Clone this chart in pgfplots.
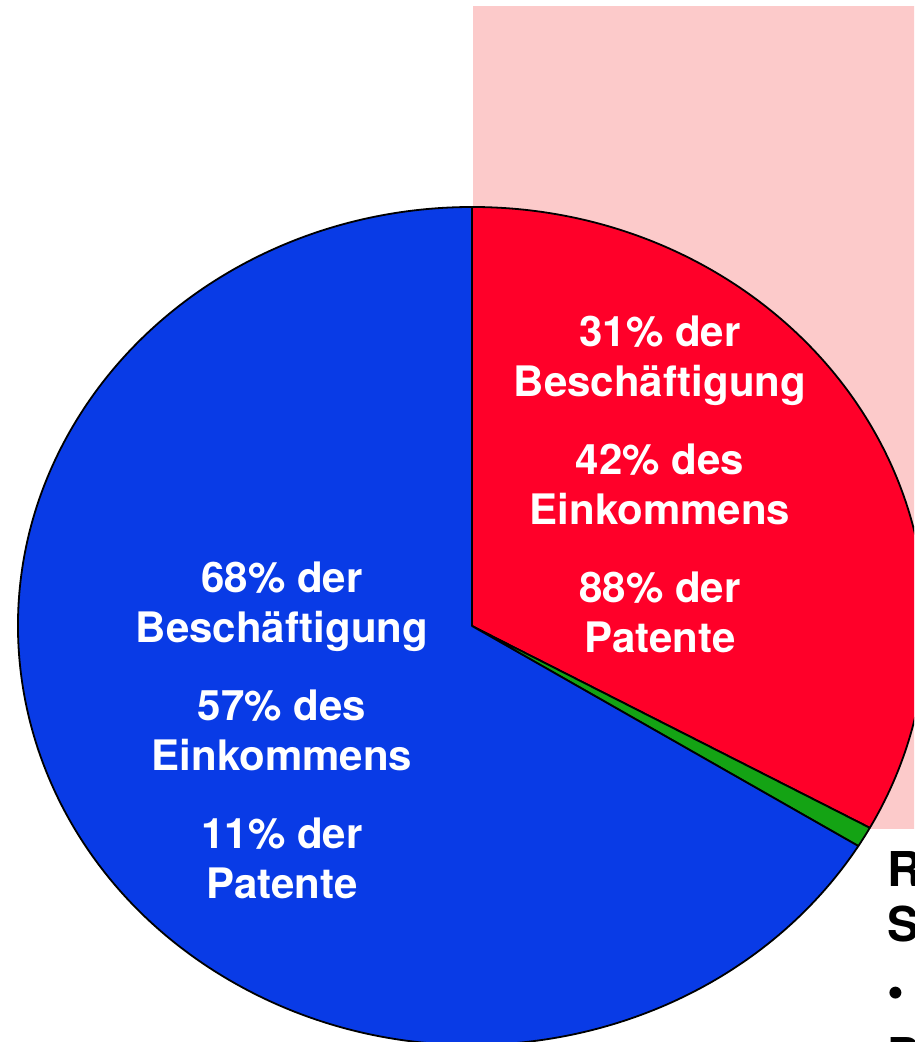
\documentclass[border=0pt]{standalone}
\usepackage{pgfplots}
\pgfplotsset{compat=1.18}
\usepackage{pgfplotstable}
\usepackage{fontspec}
\setmainfont{TeX Gyre Heros}
\definecolor{pieRed}{HTML}{FF0029}
\definecolor{pieGreen}{HTML}{14A314}
\definecolor{pieBlue}{HTML}{093BE6}
\definecolor{boxPink}{HTML}{FCCACA}

% slice shares in percent, clockwise from 12 o'clock
\pgfplotstableread{
share
33.0
0.8
66.2
}\piedata

\begin{document}
\begin{tikzpicture}
\pgfplotstablegetelem{0}{share}\of\piedata \let\shA\pgfplotsretval
\pgfplotstablegetelem{1}{share}\of\piedata \let\shB\pgfplotsretval
\pgfplotstablegetelem{2}{share}\of\piedata \let\shC\pgfplotsretval
\pgfmathsetmacro\aA{90}
\pgfmathsetmacro\aB{\aA-3.6*\shA}
\pgfmathsetmacro\aC{\aB-3.6*\shB}
\pgfmathsetmacro\aD{\aC-3.6*\shC}
\begin{axis}[
  at={(0,0)}, anchor=south west,
  width=457pt, height=521pt, scale only axis,
  xmin=0, xmax=914, ymin=0, ymax=1042,
  hide axis, clip=true,
]
  \coordinate (ll) at (axis cs:0,0);
  \coordinate (ur) at (axis cs:914,1042);
  % pink box behind the pie
  \fill[boxPink] (axis cs:473,213) rectangle (axis cs:960,1036);
  % wedges
  \filldraw[fill=pieRed, draw=black, line width=0.9pt, line join=round]
    (axis cs:472,416) -- +(\aA:454 and 419)
    arc[start angle=\aA, end angle=\aB, x radius=454, y radius=419] -- cycle;
  \filldraw[fill=pieGreen, draw=black, line width=0.9pt, line join=round]
    (axis cs:472,416) -- +(\aB:454 and 419)
    arc[start angle=\aB, end angle=\aC, x radius=454, y radius=419] -- cycle;
  \filldraw[fill=pieBlue, draw=black, line width=0.9pt, line join=round]
    (axis cs:472,416) -- +(\aC:454 and 419)
    arc[start angle=\aC, end angle=\aD, x radius=454, y radius=419] -- cycle;
  % labels
  \node[text=white, align=center, font=\bfseries\fontsize{21}{25}\selectfont]
    at (axis cs:660,558)
    {31\% der\\Beschäftigung\\[14pt]42\% des\\Einkommens\\[14pt]88\% der\\Patente};
  \node[text=white, align=center, font=\bfseries\fontsize{21}{25}\selectfont]
    at (axis cs:282,312)
    {68\% der\\Beschäftigung\\[14pt]57\% des\\Einkommens\\[14pt]11\% der\\Patente};
  % text of the next panel, cut off at bottom right as in the source
  \node[anchor=base west, inner sep=0pt, font=\bfseries\fontsize{24}{28}\selectfont] at (axis cs:887,155) {R};
  \node[anchor=base west, inner sep=0pt, font=\bfseries\fontsize{24}{28}\selectfont] at (axis cs:887,100) {S};
  \node[anchor=base west, inner sep=0pt, font=\bfseries\fontsize{24}{28}\selectfont] at (axis cs:887,34) {•};
  \node[anchor=base west, inner sep=0pt, font=\bfseries\fontsize{24}{28}\selectfont] at (axis cs:887,-30) {P};
\end{axis}
\pgfresetboundingbox
\path (ll) rectangle (ur);
\end{tikzpicture}
\end{document}
